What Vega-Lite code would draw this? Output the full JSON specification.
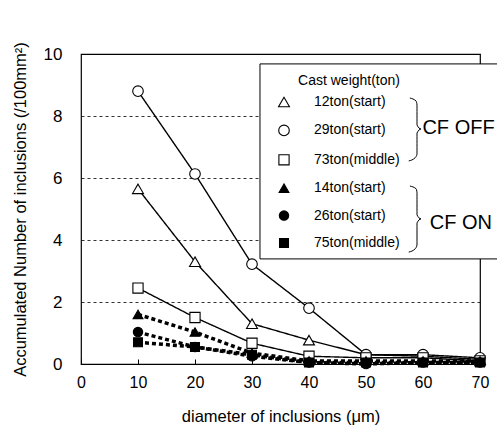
{
  "$schema": "https://vega.github.io/schema/vega-lite/v6.json",
  "width": 399,
  "height": 310,
  "autosize": {"type": "none"},
  "padding": {"left": 81, "top": 54, "right": 17, "bottom": 71},
  "background": "white",
  "config": {
    "font": "Liberation Sans",
    "view": {"stroke": "black", "strokeWidth": 1.2},
    "axis": {"labelColor": "black", "titleColor": "black", "domain": false, "labelFont": "Liberation Sans", "titleFont": "Liberation Sans", "titleFontWeight": "normal"}
  },
  "datasets": {
    "series": [
      {"series": "12ton(start)", "cf": "OFF", "d": 10, "n": 5.65},
      {"series": "12ton(start)", "cf": "OFF", "d": 20, "n": 3.3},
      {"series": "12ton(start)", "cf": "OFF", "d": 30, "n": 1.3},
      {"series": "12ton(start)", "cf": "OFF", "d": 40, "n": 0.77},
      {"series": "12ton(start)", "cf": "OFF", "d": 50, "n": 0.3},
      {"series": "12ton(start)", "cf": "OFF", "d": 60, "n": 0.25},
      {"series": "12ton(start)", "cf": "OFF", "d": 70, "n": 0.15},
      {"series": "29ton(start)", "cf": "OFF", "d": 10, "n": 8.8},
      {"series": "29ton(start)", "cf": "OFF", "d": 20, "n": 6.13},
      {"series": "29ton(start)", "cf": "OFF", "d": 30, "n": 3.22},
      {"series": "29ton(start)", "cf": "OFF", "d": 40, "n": 1.8},
      {"series": "29ton(start)", "cf": "OFF", "d": 50, "n": 0.3},
      {"series": "29ton(start)", "cf": "OFF", "d": 60, "n": 0.3},
      {"series": "29ton(start)", "cf": "OFF", "d": 70, "n": 0.2},
      {"series": "73ton(middle)", "cf": "OFF", "d": 10, "n": 2.45},
      {"series": "73ton(middle)", "cf": "OFF", "d": 20, "n": 1.5},
      {"series": "73ton(middle)", "cf": "OFF", "d": 30, "n": 0.67},
      {"series": "73ton(middle)", "cf": "OFF", "d": 40, "n": 0.25},
      {"series": "73ton(middle)", "cf": "OFF", "d": 50, "n": 0.2},
      {"series": "73ton(middle)", "cf": "OFF", "d": 60, "n": 0.2},
      {"series": "73ton(middle)", "cf": "OFF", "d": 70, "n": 0.1},
      {"series": "14ton(start)", "cf": "ON", "d": 10, "n": 1.6},
      {"series": "14ton(start)", "cf": "ON", "d": 20, "n": 1.03},
      {"series": "14ton(start)", "cf": "ON", "d": 30, "n": 0.35},
      {"series": "14ton(start)", "cf": "ON", "d": 40, "n": 0.1},
      {"series": "14ton(start)", "cf": "ON", "d": 50, "n": 0.1},
      {"series": "14ton(start)", "cf": "ON", "d": 60, "n": 0.1},
      {"series": "14ton(start)", "cf": "ON", "d": 70, "n": 0.1},
      {"series": "26ton(start)", "cf": "ON", "d": 10, "n": 1.03},
      {"series": "26ton(start)", "cf": "ON", "d": 20, "n": 0.55},
      {"series": "26ton(start)", "cf": "ON", "d": 30, "n": 0.25},
      {"series": "26ton(start)", "cf": "ON", "d": 40, "n": 0.05},
      {"series": "26ton(start)", "cf": "ON", "d": 50, "n": 0.0},
      {"series": "26ton(start)", "cf": "ON", "d": 60, "n": 0.05},
      {"series": "26ton(start)", "cf": "ON", "d": 70, "n": 0.05},
      {"series": "75ton(middle)", "cf": "ON", "d": 10, "n": 0.7},
      {"series": "75ton(middle)", "cf": "ON", "d": 20, "n": 0.55},
      {"series": "75ton(middle)", "cf": "ON", "d": 30, "n": 0.3},
      {"series": "75ton(middle)", "cf": "ON", "d": 40, "n": 0.05},
      {"series": "75ton(middle)", "cf": "ON", "d": 50, "n": 0.05},
      {"series": "75ton(middle)", "cf": "ON", "d": 60, "n": 0.05},
      {"series": "75ton(middle)", "cf": "ON", "d": 70, "n": 0.05}
    ],
    "box": [{"x1": 31.4, "x2": 75, "y1": 9.68, "y2": 3.39}],
    "braces": [
      {"g": "OFF", "i": 1, "x": 57.7, "y": 8.58},
      {"g": "OFF", "i": 2, "x": 58.8, "y": 8.48},
      {"g": "OFF", "i": 3, "x": 58.95, "y": 8.35},
      {"g": "OFF", "i": 4, "x": 58.95, "y": 7.71},
      {"g": "OFF", "i": 5, "x": 59.65, "y": 7.58},
      {"g": "OFF", "i": 6, "x": 58.95, "y": 7.45},
      {"g": "OFF", "i": 7, "x": 58.95, "y": 6.77},
      {"g": "OFF", "i": 8, "x": 58.6, "y": 6.65},
      {"g": "OFF", "i": 9, "x": 57.5, "y": 6.55},
      {"g": "ON", "i": 1, "x": 57.7, "y": 5.74},
      {"g": "ON", "i": 2, "x": 58.8, "y": 5.65},
      {"g": "ON", "i": 3, "x": 58.95, "y": 5.52},
      {"g": "ON", "i": 4, "x": 58.95, "y": 4.81},
      {"g": "ON", "i": 5, "x": 59.65, "y": 4.68},
      {"g": "ON", "i": 6, "x": 58.95, "y": 4.55},
      {"g": "ON", "i": 7, "x": 58.95, "y": 3.84},
      {"g": "ON", "i": 8, "x": 58.6, "y": 3.71},
      {"g": "ON", "i": 9, "x": 57.5, "y": 3.61}
    ],
    "labels": [
      {"t": "CF OFF", "x": 59.9, "y": 7.61},
      {"t": "CF ON", "x": 61.2, "y": 4.55}
    ]
  },
  "encoding": {
    "x": {
      "field": "d", "type": "quantitative",
      "scale": {"domain": [0, 70], "nice": false},
      "axis": {
        "title": "diameter of inclusions (μm)",
        "values": [0, 10, 20, 30, 40, 50, 60, 70],
        "grid": false, "tickSize": -5, "tickColor": "black", "tickWidth": 1,
        "labelFontSize": 16, "labelPadding": 15, "labelFlush": false,
        "titleFontSize": 16.5, "titlePadding": 18
      }
    },
    "y": {
      "field": "n", "type": "quantitative",
      "scale": {"domain": [0, 10], "nice": false},
      "axis": {
        "title": "Accumulated Number of inclusions (/100mm²)",
        "values": [0, 2, 4, 6, 8, 10],
        "ticks": false,
        "grid": true, "gridColor": "black", "gridDash": [3, 3], "gridWidth": 0.8,
        "labelFontSize": 17, "labelPadding": 19,
        "titleFontSize": 16.5, "titlePadding": 15
      }
    }
  },
  "layer": [
    {
      "data": {"name": "box"},
      "mark": {"type": "rect", "fill": "white", "stroke": "black", "strokeWidth": 1},
      "encoding": {
        "x": {"field": "x1", "type": "quantitative"},
        "x2": {"field": "x2"},
        "y": {"field": "y1", "type": "quantitative"},
        "y2": {"field": "y2"}
      }
    },
    {
      "data": {"name": "series"},
      "mark": {"type": "line", "color": "black"},
      "encoding": {
        "detail": {"field": "series"},
        "strokeDash": {"field": "cf", "type": "nominal", "scale": {"domain": ["OFF", "ON"], "range": [[1, 0], [4, 3]]}, "legend": null},
        "strokeWidth": {"field": "cf", "type": "nominal", "scale": {"domain": ["OFF", "ON"], "range": [1.4, 3.5]}, "legend": null}
      }
    },
    {
      "data": {"name": "series"},
      "mark": {"type": "point", "filled": false, "stroke": "black", "strokeWidth": 1.1, "opacity": 1},
      "encoding": {
        "shape": {
          "field": "series", "type": "nominal", "title": "Cast weight(ton)",
          "scale": {
            "domain": ["12ton(start)", "29ton(start)", "73ton(middle)", "14ton(start)", "26ton(start)", "75ton(middle)"],
            "range": ["triangle-up", "circle", "square", "triangle-up", "circle", "square"]
          },
          "legend": {
            "orient": "none", "legendX": 196, "legendY": 20,
            "titleFontSize": 14, "titleFontWeight": "normal", "titleColor": "black", "titleAnchor": "end", "titlePadding": 7,
            "labelFontSize": 14, "labelColor": "black", "labelOffset": 23,
            "rowPadding": 13.4, "symbolStrokeColor": "black", "symbolStrokeWidth": 1.1, "padding": 0
          }
        },
        "fill": {
          "field": "series", "type": "nominal", "title": "Cast weight(ton)",
          "scale": {
            "domain": ["12ton(start)", "29ton(start)", "73ton(middle)", "14ton(start)", "26ton(start)", "75ton(middle)"],
            "range": ["white", "white", "white", "black", "black", "black"]
          }
        },
        "size": {
          "field": "series", "type": "nominal", "title": "Cast weight(ton)",
          "scale": {
            "domain": ["12ton(start)", "29ton(start)", "73ton(middle)", "14ton(start)", "26ton(start)", "75ton(middle)"],
            "range": [120, 80, 80, 120, 80, 80]
          }
        }
      }
    },
    {
      "data": {"name": "braces"},
      "mark": {"type": "line", "color": "black", "strokeWidth": 1, "interpolate": "monotone"},
      "encoding": {
        "x": {"field": "x", "type": "quantitative"},
        "y": {"field": "y", "type": "quantitative"},
        "detail": {"field": "g"},
        "order": {"field": "i"}
      }
    },
    {
      "data": {"name": "labels"},
      "mark": {"type": "text", "align": "left", "baseline": "middle", "fontSize": 20, "font": "Liberation Sans", "color": "black"},
      "encoding": {
        "x": {"field": "x", "type": "quantitative"},
        "y": {"field": "y", "type": "quantitative"},
        "text": {"field": "t"}
      }
    }
  ]
}
